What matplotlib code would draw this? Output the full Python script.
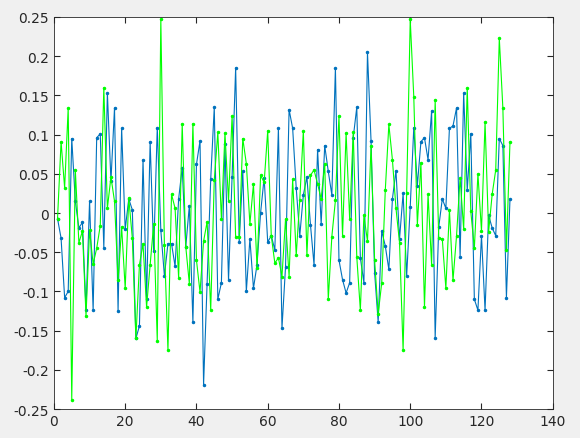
import matplotlib
matplotlib.use("Agg")
import matplotlib.pyplot as plt
import numpy as np

blue = [-0.007,-0.032,-0.108,-0.100,0.095,0.015,-0.019,-0.012,-0.124,0.015,
        -0.124,0.096,0.101,-0.044,0.153,0.041,0.134,-0.125,0.108,-0.021,
        0.018,0.004,-0.160,-0.144,0.068,-0.110,0.091,-0.049,0.109,-0.022,
        -0.080,-0.039,-0.039,-0.068,0.018,0.058,-0.043,
        0.009,-0.139,0.062,0.092,-0.219,-0.090,0.043,0.135,-0.110,-0.089,
        0.088,-0.086,0.046,0.185,-0.037,0.053,-0.100,-0.033,-0.096,-0.066,
        0.000,0.045,-0.037,-0.029,-0.047,0.108,-0.147,-0.069,0.132,0.108,
        0.032,-0.029,0.023,0.046,
        -0.015,-0.066,0.081,-0.014,0.086,0.053,0.023,0.185,-0.060,-0.085,
        -0.102,-0.089,0.096,0.135,-0.057,-0.089,0.205,0.092,-0.076,-0.139,
        -0.023,-0.042,-0.072,0.018,0.054,-0.033,0.025,-0.080,0.008,0.109,
        0.035,0.091,0.096,0.068,0.130,-0.159,
        -0.018,0.018,0.006,0.108,0.111,0.134,-0.056,0.153,0.029,0.101,
        -0.110,-0.124,-0.029,-0.124,-0.003,-0.019,-0.029,0.095,0.086,-0.108,0.018]
green = [-0.008,0.091,0.032,0.134,-0.238,0.055,-0.038,-0.023,-0.131,-0.022,
         -0.065,-0.045,-0.016,0.160,0.006,0.046,0.015,-0.086,-0.018,-0.096,
         0.019,-0.032,-0.160,-0.066,-0.039,-0.120,-0.066,-0.014,-0.163,0.247,
         -0.041,-0.175,0.024,0.006,-0.083,0.114,-0.043,
         -0.090,0.114,-0.060,-0.101,-0.036,-0.011,-0.124,0.042,0.103,-0.008,
         0.102,0.015,0.124,-0.031,-0.030,0.095,0.063,-0.014,0.037,-0.070,
         0.048,0.039,0.105,-0.029,-0.064,-0.057,-0.081,-0.008,-0.081,0.043,
         -0.054,0.017,0.105,-0.054,
         0.048,0.055,0.037,0.018,0.063,-0.110,-0.030,0.016,0.124,-0.029,
         0.102,-0.008,0.103,-0.056,-0.124,-0.003,-0.036,0.086,-0.060,-0.129,
         -0.089,0.029,0.113,0.068,0.006,-0.038,-0.175,0.026,0.247,0.148,
         -0.015,0.064,-0.120,0.024,-0.066,0.144,
         -0.032,-0.033,-0.096,0.004,-0.086,-0.029,0.045,-0.021,0.160,0.002,
         -0.045,0.050,-0.023,0.116,-0.024,0.024,0.055,0.223,0.134,-0.047,0.091]
x = np.arange(1, len(blue) + 1)

fig = plt.figure(figsize=(5.8, 4.39), dpi=100, facecolor="#f0f0f0")
ax = fig.add_axes([0.093, 0.066, 0.86, 0.893])
ax.plot(x, blue, '.-', color="#0072BD", lw=0.8, ms=3)
ax.plot(np.arange(1, len(green) + 1), green, '.-', color="#00FF00", lw=0.8, ms=3)
ax.set_xlim(0, 140)
ax.set_ylim(-0.25, 0.25)
ax.set_xticks(range(0, 141, 20))
ax.set_yticks(np.arange(-0.25, 0.2501, 0.05))
ax.set_yticklabels(["-0.25","-0.2","-0.15","-0.1","-0.05","0","0.05","0.1","0.15","0.2","0.25"])
ax.tick_params(direction="in", top=True, right=True, labelsize=10, colors="#262626", length=4)
for s in ax.spines.values():
    s.set_color("#262626"); s.set_linewidth(0.6)
fig.savefig("out.png", facecolor=fig.get_facecolor())
